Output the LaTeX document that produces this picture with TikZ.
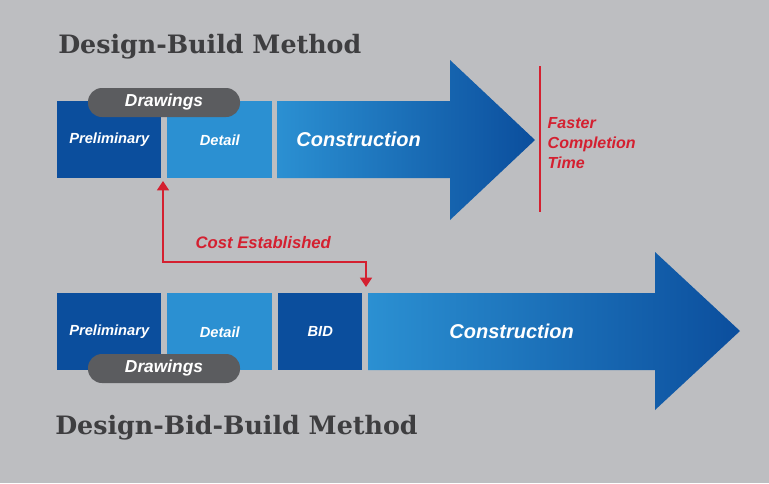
\documentclass[tikz,border=0pt]{standalone}
\usepackage{fontspec}
\setmainfont{Liberation Sans}
\newfontfamily\slab{DejaVu Serif}
\usetikzlibrary{arrows.meta,calc}
\definecolor{bg}{HTML}{BDBEC1}
\definecolor{dblue}{HTML}{0B4E9D}
\definecolor{lblue}{HTML}{2B90D2}
\definecolor{pill}{HTML}{5B5C5F}
\definecolor{redc}{HTML}{D42030}
\definecolor{ttl}{HTML}{3E3E40}
\begin{document}
\begin{tikzpicture}[x=0.75pt,y=-0.75pt,
  box/.style={anchor=north west,inner sep=0pt,minimum height=57.75pt,text=white,font=\bfseries\itshape\fontsize{11}{13}\selectfont},
  pillbox/.style={fill=pill,rounded corners=10.5pt,minimum width=114pt,minimum height=21.75pt,inner sep=0pt,text=white,font=\bfseries\itshape\fontsize{13}{15}\selectfont},
  title/.style={anchor=west,inner sep=0pt,text=ttl,font=\slab\bfseries\fontsize{19}{22}\selectfont},
  arr/.style={left color=lblue,right color=dblue,draw=none},
  redtext/.style={text=redc,font=\bfseries\itshape\fontsize{12.5}{14.5}\selectfont}]
\fill[bg] (0,0) rectangle (769,483);
\node[title] (t1) at (58,47) {Design-Build Method};
\node[title] (t2) at (55,428) {Design-Bid-Build Method};
% top row
\node[box,fill=dblue,minimum width=78pt] (p1) at (57,101) {Preliminary};
\node[box,fill=lblue,minimum width=78.75pt] (d1) at (167,101) {Detail};
\path[arr] (277,101) -- (450,101) -- (450,60) -- (535,140) -- (450,220) -- (450,178) -- (277,178) -- cycle;
\node[box,minimum width=110pt,font=\bfseries\itshape\fontsize{15}{17}\selectfont] (c1) at (285,101) {Construction};
\node[pillbox] (w1) at (164,102.5) {Drawings};
\coordinate (f1) at (540,66); \coordinate (f2) at (540,212);
\draw[redc,line width=1.2pt] (f1) -- (f2);
\node[redtext,anchor=west,align=left,font=\bfseries\itshape\fontsize{12}{15}\selectfont] (ft) at (543,143) {Faster\\Completion\\Time};
% bottom row
\node[box,fill=dblue,minimum width=78pt] (p2) at (57,293) {Preliminary};
\node[box,fill=lblue,minimum width=78.75pt] (d2) at (167,293) {Detail};
\node[box,fill=dblue,minimum width=63pt] (b2) at (278,293) {BID};
\path[arr] (368,293) -- (655,293) -- (655,252) -- (740,331) -- (655,410) -- (655,370) -- (368,370) -- cycle;
\node[box,minimum width=215pt,font=\bfseries\itshape\fontsize{15}{17}\selectfont] (c2) at (368,293) {Construction};
\node[pillbox] (w2) at (164,368.5) {Drawings};
% connector
\coordinate (a1) at (163,181);
\coordinate (a2) at (366,287);
\draw[redc,line width=1.2pt,{Triangle[width=9pt,length=7pt]}-{Triangle[width=9pt,length=7pt]}] (a1) |- (366,262) -- (a2);
\node[redtext,anchor=west] (ce) at (191,243) {Cost Established};
\end{tikzpicture}
\end{document}
